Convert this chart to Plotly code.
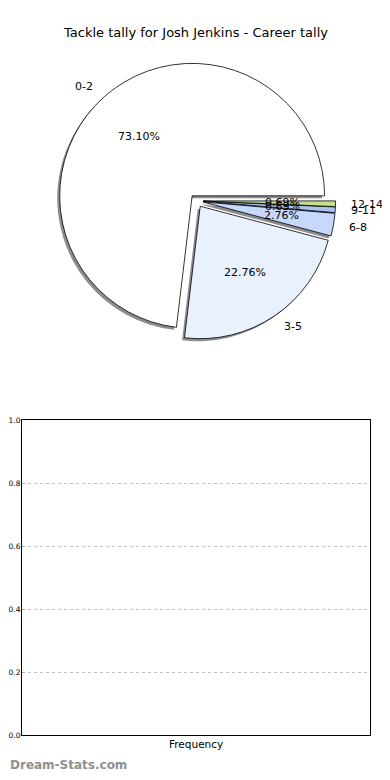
import math
import plotly.graph_objects as go

# ---- data ----
title = "Tackle tally for Josh Jenkins - Career tally"
categories = ["0-2", "3-5", "6-8", "9-11", "12-14"]
counts = [106, 33, 4, 1, 1]
colors = ["#ffffff", "#eaf1fe", "#c6d9fd", "#a9c4ee", "#c3e08c"]
y_ticks = [0.0, 0.2, 0.4, 0.6, 0.8, 1.0]
y_tick_labels = ["0.0", "0.2", "0.4", "0.6", "0.8", "1.0"]
freq_x = []
freq_y = []

# the page body has an 8px default margin: lay out in window pixels, shift by OFF
OFF = 8
WIN_W, WIN_H = 390, 780
W, H = WIN_W - OFF, WIN_H - OFF
FONT = "DejaVu Sans"


def px(x):
    return (x - OFF) / W


def py(y):
    return 1 - (y - OFF) / H


# pie geometry (window pixels)
cx, cy, r = 195, 199, 134
pull = 0.05
half = r * (1 + pull)
sx, sy = -2.5, 2.5  # shadow offset (px, y down)


def dom(cx_, cy_):
    return dict(x=[px(cx_ - half), px(cx_ + half)],
                y=[py(cy_ + half), py(cy_ - half)])


total = sum(counts)
# plotly counterclockwise: rotation marks the end of the first slice
rotation = 90 - 360 * counts[0] / total

fig = go.Figure()

# shadow
fig.add_trace(go.Pie(
    labels=categories, values=counts, sort=False, direction="counterclockwise",
    rotation=rotation, pull=[pull] * len(counts), domain=dom(cx + sx, cy + sy),
    marker=dict(colors=["rgba(0,0,0,0.45)"] * len(counts), line=dict(width=0)),
    textinfo="none", hoverinfo="skip", showlegend=False))

# main pie
fig.add_trace(go.Pie(
    labels=categories, values=counts, sort=False, direction="counterclockwise",
    rotation=rotation, pull=[pull] * len(counts), domain=dom(cx, cy),
    marker=dict(colors=colors, line=dict(color="black", width=0.8)),
    textinfo="none", showlegend=False))

# labels and percentages (matplotlib-like placement)
annotations = []
start = 0.0
for lab, v in zip(categories, counts):
    frac = v / total
    mid = math.radians((start + frac / 2) * 360)
    start += frac
    ex = cx + pull * r * math.cos(mid)
    ey = cy - pull * r * math.sin(mid)
    lx = ex + 1.1 * r * math.cos(mid)
    ly = ey - 1.1 * r * math.sin(mid)
    tx = ex + 0.6 * r * math.cos(mid)
    ty = ey - 0.6 * r * math.sin(mid)
    annotations.append(dict(x=px(lx), y=py(ly), xref="paper", yref="paper",
                            text=lab, showarrow=False,
                            xanchor="left" if math.cos(mid) > 0 else "right",
                            yanchor="middle", font=dict(size=11, color="black", family=FONT)))
    annotations.append(dict(x=px(tx), y=py(ty), xref="paper", yref="paper",
                            text=f"{frac * 100:.2f}%", showarrow=False,
                            xanchor="center", yanchor="middle",
                            font=dict(size=11, color="black", family=FONT)))

annotations.append(dict(x=px(194), y=py(29), xref="paper", yref="paper", text=title,
                        showarrow=False, xanchor="center", yanchor="middle",
                        font=dict(size=13, color="black", family=FONT)))
annotations.append(dict(x=px(194), y=py(749), xref="paper", yref="paper", text="Frequency",
                        showarrow=False, xanchor="center", yanchor="middle",
                        font=dict(size=10.5, color="black", family=FONT)))
annotations.append(dict(x=0, y=py(770), xref="paper", yref="paper", text="Dream-Stats.com",
                        showarrow=False, xanchor="left", yanchor="middle", xshift=-3,
                        font=dict(size=12, color="#8f8f8f", family=FONT, weight="bold")))

# empty frequency axes
fig.add_trace(go.Scatter(x=freq_x, y=freq_y, mode="markers", showlegend=False,
                         xaxis="x", yaxis="y"))

fig.update_layout(
    width=W, height=H, margin=dict(l=0, r=0, t=0, b=0),
    paper_bgcolor="white", plot_bgcolor="white",
    font=dict(family=FONT, color="black"),
    annotations=annotations,
    xaxis=dict(domain=[px(19), px(370)], range=[0, 1], showticklabels=False, ticks="",
               showgrid=False, zeroline=False, showline=True, linecolor="black",
               linewidth=1, mirror=True, fixedrange=True),
    yaxis=dict(domain=[py(740), py(421)], range=[0, 1], tickvals=y_ticks,
               ticktext=y_tick_labels, ticks="inside", ticklen=3, tickcolor="#aaaaaa",
               ticklabelstandoff=-1,
               tickfont=dict(size=7.5, color="black"), showgrid=True, gridcolor="#c0c0c0",
               griddash="dot", gridwidth=1, zeroline=False, showline=True,
               linecolor="black", linewidth=1, mirror=True, fixedrange=True),
)

fig.write_html("out.html")
